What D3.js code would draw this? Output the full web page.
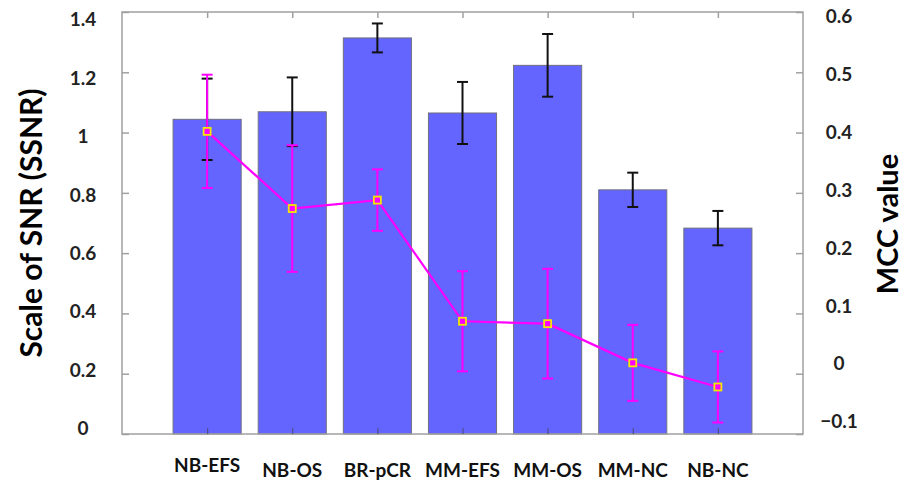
<!DOCTYPE html>
<html>
<head>
<meta charset="utf-8">
<script src="https://cdn.jsdelivr.net/npm/d3@7"></script>
<style>
  body { margin: 0; background: #fff; }
  text { font-family: Lato, "Open Sans", sans-serif; font-weight: bold; }
</style>
</head>
<body>
<svg width="906" height="481"></svg>
<script>
var categories = ["NB-EFS", "NB-OS", "BR-pCR", "MM-EFS", "MM-OS", "MM-NC", "NB-NC"];
var ssnr    = [1.044, 1.069, 1.314, 1.065, 1.223, 0.810, 0.683];
var ssnrErr = [0.135, 0.114, 0.048, 0.103, 0.104, 0.057, 0.057];
var mcc     = [0.402, 0.274, 0.288, 0.087, 0.083, 0.018, -0.022];
var mccErr  = [0.094, 0.105, 0.051, 0.083, 0.091, 0.063, 0.059];
var leftTicks  = [0, 0.2, 0.4, 0.6, 0.8, 1, 1.2, 1.4];
var rightTicks = [-0.1, 0, 0.1, 0.2, 0.3, 0.4, 0.5, 0.6];

var svg = d3.select("svg");

var x = d3.scaleLinear().domain([0, categories.length + 1]).range([122, 803]);
var yL = d3.scaleLinear().domain([0, 1.4]).range([434, 12]);
var yR = d3.scaleLinear().domain([-0.1, 0.6]).range([434, 12]);
// tick labels sit a little off their ticks in the original
var yLabL = d3.scaleLinear().domain([0, 1.4]).range([428.5, 19.5]);
var yLabR = d3.scaleLinear().domain([-0.1, 0.6]).range([421.5, 16.5]);

var step = x(1) - x(0);
var barW = step * 0.8;
var cap = 5.5;

var rows = categories.map(function(c, i) {
  return { cat: c, i: i + 1, s: ssnr[i], se: ssnrErr[i], m: mcc[i], me: mccErr[i] };
});

// bars
svg.append("g").selectAll("rect")
  .data(rows)
  .enter().append("rect")
    .attr("x", d => x(d.i) - barW / 2)
    .attr("y", d => yL(d.s))
    .attr("width", barW)
    .attr("height", d => yL(0) - yL(d.s))
    .attr("fill", "#6464ff")
    .attr("stroke", "#707080")
    .attr("stroke-width", 1);

// frame
svg.append("rect")
  .attr("x", x(0)).attr("y", yL(1.4))
  .attr("width", x(8) - x(0)).attr("height", yL(0) - yL(1.4))
  .attr("fill", "none").attr("stroke", "#a0a0a0").attr("stroke-width", 1.5);

// inner ticks
var axL = svg.append("g").attr("transform", "translate(" + x(0) + ",0)")
  .call(d3.axisRight(yL).tickValues(leftTicks).tickSize(7).tickFormat(""));
var axR = svg.append("g").attr("transform", "translate(" + x(8) + ",0)")
  .call(d3.axisLeft(yR).tickValues(rightTicks).tickSize(7).tickFormat(""));
var axT = svg.append("g").attr("transform", "translate(0," + yL(1.4) + ")")
  .call(d3.axisBottom(x).tickValues(d3.range(1, 8)).tickSize(6).tickFormat(""));
var axB = svg.append("g").attr("transform", "translate(0," + yL(0) + ")")
  .call(d3.axisTop(x).tickValues(d3.range(1, 8)).tickSize(6).tickFormat(""));
[axL, axR, axT].forEach(function(a) {
  a.select(".domain").remove();
  a.selectAll("line").attr("stroke", "#a0a0a0").attr("stroke-width", 1.5);
});
axB.select(".domain").remove();
axB.selectAll("line").attr("stroke", "#50508a").attr("stroke-width", 1.2);

// black error bars
var eb = svg.append("g").attr("stroke", "#111").attr("stroke-width", 2);
rows.forEach(function(d) {
  var cx = x(d.i), t = yL(d.s + d.se), b = yL(d.s - d.se);
  eb.append("line").attr("x1", cx).attr("x2", cx).attr("y1", t).attr("y2", b);
  eb.append("line").attr("x1", cx - cap).attr("x2", cx + cap).attr("y1", t).attr("y2", t);
  eb.append("line").attr("x1", cx - cap).attr("x2", cx + cap).attr("y1", b).attr("y2", b);
});

// magenta line and error bars
var mg = svg.append("g").attr("stroke", "#ff00ff").attr("stroke-width", 2);
rows.forEach(function(d) {
  var cx = x(d.i), t = yR(d.m + d.me), b = yR(d.m - d.me);
  mg.append("line").attr("x1", cx).attr("x2", cx).attr("y1", t).attr("y2", b);
  mg.append("line").attr("x1", cx - cap).attr("x2", cx + cap).attr("y1", t).attr("y2", t);
  mg.append("line").attr("x1", cx - cap).attr("x2", cx + cap).attr("y1", b).attr("y2", b);
});
svg.append("path")
  .datum(rows)
  .attr("fill", "none")
  .attr("stroke", "#ff00ff")
  .attr("stroke-width", 2.2)
  .attr("d", d3.line().x(d => x(d.i)).y(d => yR(d.m)));
svg.append("g").selectAll("rect")
  .data(rows)
  .enter().append("rect")
    .attr("x", d => x(d.i) - 3.5)
    .attr("y", d => yR(d.m) - 3.5)
    .attr("width", 7).attr("height", 7)
    .attr("fill", "#ff00ff")
    .attr("stroke", "#f5e800")
    .attr("stroke-width", 1.8);

// tick labels
svg.append("g").selectAll("text")
  .data(leftTicks)
  .enter().append("text")
    .attr("x", 83).attr("y", d => yLabL(d)).attr("dy", "0.36em")
    .attr("text-anchor", "middle")
    .attr("font-size", 19).attr("fill", "#222")
    .text(d => d3.format("")(d));
svg.append("g").selectAll("text")
  .data(rightTicks)
  .enter().append("text")
    .attr("x", 839).attr("y", d => yLabR(d)).attr("dy", "0.36em")
    .attr("text-anchor", "middle")
    .attr("font-size", 19).attr("fill", "#222")
    .text(d => d3.format("")(d));
svg.append("g").selectAll("text")
  .data(rows)
  .enter().append("text")
    .attr("x", d => x(d.i)).attr("y", d => d.i === 1 ? 472 : 477)
    .attr("text-anchor", "middle")
    .attr("font-size", 19).attr("fill", "#111")
    .text(d => d.cat);

// axis titles
svg.append("text")
  .attr("transform", "translate(42,223) rotate(-90)")
  .attr("text-anchor", "middle")
  .attr("font-size", 30).attr("fill", "#000")
  .text("Scale of SNR (SSNR)");
svg.append("text")
  .attr("transform", "translate(898,224) rotate(-90)")
  .attr("text-anchor", "middle")
  .attr("font-size", 29).attr("fill", "#000")
  .text("MCC value");
</script>
</body>
</html>
